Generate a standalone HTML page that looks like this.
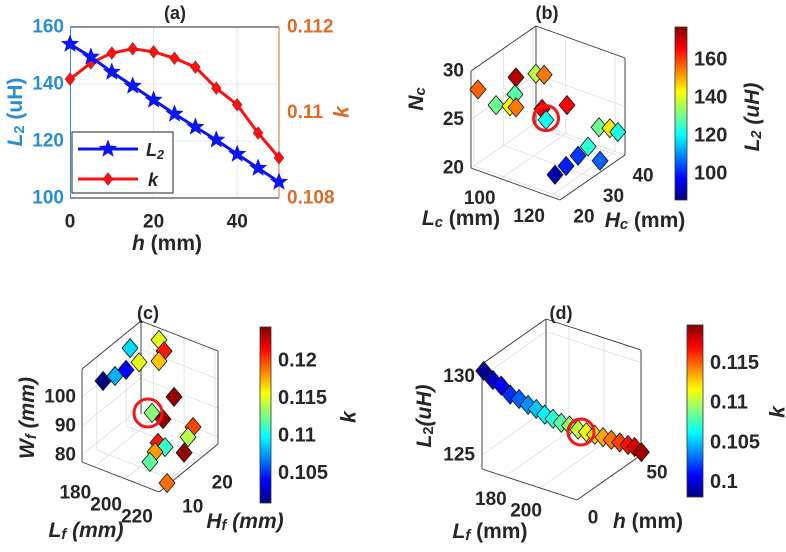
<!DOCTYPE html>
<html><head><meta charset="utf-8"><style>
html,body{margin:0;padding:0;background:#fff;}
svg{display:block;font-family:"Liberation Sans",sans-serif;}
</style></head><body>
<svg id="fig" width="786" height="552" viewBox="0 0 786 552" xmlns="http://www.w3.org/2000/svg"></svg>
<script>
// ---------- Panel (a) data ----------
const hVals = [0, 5, 10, 15, 20, 25, 30, 35, 40, 45, 50];
const L2Vals = [154, 149.5, 144.2, 139.3, 134.4, 129.5, 124.9, 120.4, 115.4, 110.5, 105.6];
const kVals = [0.11078, 0.11116, 0.11139, 0.11149, 0.11142, 0.11127, 0.11106, 0.11057, 0.11018, 0.10952, 0.10894];
const aXTicks = [0, 20, 40];
const aLTicks = [100, 120, 140, 160];
const aKTicks = [0.108, 0.11, 0.112];
const aKTickLabels = ["0.108", "0.11", "0.112"];

// ---------- Panel (b) data ----------
const bLc = [89.5, 98.3, 101.1, 101.8, 97.9, 95.5, 98.5, 98.3, 103.6, 105.8, 105.2, 113.5, 117.9, 121.1, 111.7, 112.9, 121.8, 113.3, 114.1];
const bHc = [20.1, 25.6, 30, 32.2, 25.6, 21.2, 23.4, 25.6, 30, 36.6, 30, 41, 41, 41, 38.8, 34.4, 34.4, 30, 25.6];
const bNc = [28.0, 28.9, 28.6, 28.1, 27.1, 26.7, 26.4, 25.8, 25.2, 24.4, 24.2, 21.9, 22.2, 22.1, 20.2, 20.3, 20.6, 20.2, 20.3];
const bL2 = [157, 172, 137, 155, 128, 130, 143, 155, 168, 166, 122, 130, 145, 122, 124, 102, 106, 100, 90];
const bLcTicks = [100, 120];
const bHcTicks = [20, 30, 40];
const bNcTicks = [20, 25, 30];
const bCbTicks = [100, 120, 140, 160];

// ---------- Panel (c) data ----------
const cLf = [176.4, 178.4, 177.6, 178.1, 178.0, 183.7, 187.0, 187.5, 197.3, 198.3, 201.6, 205.8, 206.4, 215.3, 206.0, 210.6, 207.9, 212.3, 221.5];
const cHf = [19, 21, 17, 13, 9, 25, 25, 23, 23, 15, 17, 25, 23, 17, 13, 13, 11, 7, 8];
const cWf = [106.2, 100.1, 100.6, 101.9, 103.5, 105.6, 102.4, 100.7, 90.4, 91.7, 88.6, 80.1, 78.4, 79.8, 84.6, 84.1, 83.5, 84.3, 78.1];
const cK = [0.109, 0.115, 0.104, 0.108, 0.100, 0.115, 0.121, 0.117, 0.124, 0.113, 0.124, 0.120, 0.114, 0.124, 0.121, 0.111, 0.118, 0.112, 0.119];
const cLfTicks = [180, 200, 220];
const cHfTicks = [10, 20];
const cWfTicks = [80, 90, 100];
const cCbTicks = [0.105, 0.11, 0.115, 0.12];
const cCbLabels = ["0.105", "0.11", "0.115", "0.12"];

// ---------- Panel (d) data ----------
const dLf = [168.0, 171.4, 174.3, 177.6, 180.8, 184.1, 186.9, 189.9, 192.8, 195.7, 198.6, 201.6, 204.5, 207.4, 210.3, 213.2, 216.2, 219.1, 221.0, 223.0];
const dH = [0, 2.5, 5, 7.5, 10, 12.5, 15, 17.5, 20, 22.5, 25, 27.5, 30, 32.5, 35, 37.5, 40, 42.5, 45, 47.5];
const dL2 = [130.4, 129.8, 129.4, 128.8, 128.5, 128.1, 127.8, 127.4, 127.1, 126.8, 126.6, 126.3, 126.1, 125.9, 125.7, 125.5, 125.3, 125.1, 124.9, 124.5];
const dK = [0.0985, 0.0996, 0.1007, 0.1018, 0.1029, 0.1039, 0.1050, 0.1061, 0.1071, 0.1082, 0.1093, 0.1104, 0.1114, 0.1125, 0.1136, 0.1146, 0.1157, 0.1168, 0.1179, 0.1190];
const dLfTicks = [180, 200];
const dHTicks = [0, 50];
const dL2Ticks = [125, 130];
const dCbTicks = [0.1, 0.105, 0.11, 0.115];
const dCbLabels = ["0.1", "0.105", "0.11", "0.115"];

const NS = "http://www.w3.org/2000/svg";
const svg = document.getElementById("fig");
const TXT = "#262626";
const TS = 19, AS = 21;
function mk(tag, attrs, parent) {
  const e = document.createElementNS(NS, tag);
  for (const k in attrs) e.setAttribute(k, attrs[k]);
  (parent || svg).appendChild(e);
  return e;
}
function jet(t) {
  t = Math.max(0, Math.min(1, t));
  const c = x => Math.round(255 * Math.max(0, Math.min(1, x)));
  return "rgb(" + c(1.5 - Math.abs(4 * t - 3)) + "," + c(1.5 - Math.abs(4 * t - 2)) + "," + c(1.5 - Math.abs(4 * t - 1)) + ")";
}
function label(x, y, str, opts, parent) {
  const t = mk("text", { x: x, y: y, "font-size": opts.size || TS, "font-weight": "bold", fill: opts.fill || TXT, "text-anchor": opts.anchor || "middle", "dominant-baseline": "central" }, parent);
  t.textContent = str;
  return t;
}
function subLabel(x, y, main, sub, rest, opts, parent) {
  const sz = opts.size || AS;
  const t = mk("text", { x: x, y: y, "font-size": sz, "font-weight": "bold", fill: opts.fill || TXT, "text-anchor": "middle", "dominant-baseline": "central" }, parent);
  if (opts.rot) t.setAttribute("transform", "rotate(-90 " + x + " " + y + ")");
  const a = mk("tspan", { "font-style": "italic" }, t); a.textContent = main;
  const b = mk("tspan", { "font-style": opts.subItalic ? "italic" : "normal", "font-size": sz * 0.7, dy: 5 }, t); b.textContent = sub;
  if (rest) { const c = mk("tspan", { dy: -5, "font-style": opts.restItalic ? "italic" : "normal" }, t); c.textContent = rest; }
  return t;
}
function diamond(cx, cy, hw, hh, fill, parent, sw) {
  return mk("polygon", { points: [cx, cy - hh, cx + hw, cy, cx, cy + hh, cx - hw, cy].join(","), fill: fill, stroke: "#111", "stroke-width": sw || 0.8 }, parent);
}
function star(cx, cy, r, fill, parent) {
  const pts = [];
  for (let i = 0; i < 10; i++) {
    const rr = i % 2 ? r * 0.42 : r;
    const a = -Math.PI / 2 + i * Math.PI / 5;
    pts.push((cx + rr * Math.cos(a)).toFixed(1) + "," + (cy + rr * Math.sin(a)).toFixed(1));
  }
  return mk("polygon", { points: pts.join(" "), fill: fill, stroke: fill, "stroke-width": 0.5 }, parent);
}

// =================== Panel (a) ===================
const gA = mk("g", {});


const xA = h => 70 + h / 50 * 209;
const yL = v => 198 - (v - 100) / 60 * 171;
const yK = k => 198 - (k - 0.108) / 0.004 * 171;
const L2C = "#2a8fcf", KC = "#dd6b2a";
aXTicks.forEach(t => { if (t > 0) { const g = mk("line", { x1: xA(t), x2: xA(t), y1: 27, y2: 198, stroke: "#e3e3e3", "stroke-width": 1 }, gA);
    } });
aLTicks.forEach(t => { if (t > 100 && t < 160) { const g = mk("line", { x1: 70, x2: 279, y1: yL(t), y2: yL(t), stroke: "#dcecf6", "stroke-width": 1 }, gA);
    } });
const boxTop = mk("line", { x1: 70, x2: 279, y1: 27, y2: 27, stroke: TXT, "stroke-width": 1 }, gA);


const boxBot = mk("line", { x1: 70, x2: 279, y1: 198, y2: 198, stroke: TXT, "stroke-width": 1 }, gA);


const axL = mk("line", { x1: 70.5, x2: 70.5, y1: 27, y2: 198, stroke: L2C, "stroke-width": 1 }, gA);


const axR = mk("line", { x1: 279, x2: 279, y1: 27, y2: 198, stroke: KC, "stroke-width": 1 }, gA);


aXTicks.forEach(t => { const l = label(xA(t), 222, String(t), {}, gA);
    });
aLTicks.forEach(t => { const l = label(64, yL(t), String(t), { anchor: "end", fill: L2C }, gA);
    });
aKTicks.forEach((t, i) => { const l = label(287, yK(t), aKTickLabels[i], { anchor: "start", fill: KC }, gA);
    });
const kLine = mk("polyline", { points: hVals.map((h, i) => xA(h) + "," + yK(kVals[i])).join(" "), fill: "none", stroke: "#ff1010", "stroke-width": 3 }, gA);


hVals.forEach((h, i) => { const d = diamond(xA(h), yK(kVals[i]), 5, 6.5, "#ff1010", gA, 0.3);
    });
const lLine = mk("polyline", { points: hVals.map((h, i) => xA(h) + "," + yL(L2Vals[i])).join(" "), fill: "none", stroke: "#0a14f0", "stroke-width": 3 }, gA);


hVals.forEach((h, i) => { const s = star(xA(h), yL(L2Vals[i]), 9, "#0a14f0", gA);
    });
const leg = mk("g", {}, gA);


const legBox = mk("rect", { x: 72, y: 132, width: 101, height: 61, fill: "#fff", stroke: TXT, "stroke-width": 1 }, leg);


const lg1 = mk("line", { x1: 78, x2: 138, y1: 149, y2: 149, stroke: "#0a14f0", "stroke-width": 3 }, leg);


const ls1 = star(108, 149, 9, "#0a14f0", leg);


const lt1 = subLabel(155, 150, "L", "2", "", { size: 18, subItalic: true }, leg);


const lg2 = mk("line", { x1: 78, x2: 138, y1: 179, y2: 179, stroke: "#ff1010", "stroke-width": 3 }, leg);


const ld2 = diamond(108, 179, 5, 6.5, "#ff1010", leg, 0.3);


const lt2 = mk("text", { x: 148, y: 180, "font-size": 18, "font-weight": "bold", "font-style": "italic", fill: TXT, "dominant-baseline": "central" }, leg);
lt2.textContent = "k";


const aTitle = label(175, 13, "(a)", { size: 18 }, gA);


const aYL = subLabel(15, 112, "L", "2", " (uH)", { rot: true, fill: L2C }, gA);


const aYR = mk("text", { x: 342, y: 112, "font-size": AS, "font-weight": "bold", "font-style": "italic", fill: KC, "text-anchor": "middle", "dominant-baseline": "central", transform: "rotate(-90 342 112)" }, gA);
aYR.textContent = "k";


const aX = mk("text", { x: 167, y: 243, "font-size": AS, "font-weight": "bold", fill: TXT, "text-anchor": "middle", "dominant-baseline": "central" }, gA);


const aXi = mk("tspan", { "font-style": "italic" }, aX); aXi.textContent = "h";
const aXr = mk("tspan", {}, aX); aXr.textContent = " (mm)";

// =================== 3D panels ===================
function make3D(cfg) {
  const P = (u, v, w) => [cfg.o[0] + u * cfg.eu[0] + v * cfg.ev[0] + w * cfg.ew[0], cfg.o[1] + u * cfg.eu[1] + v * cfg.ev[1] + w * cfg.ew[1]];
  const nu = x => (x - cfg.xr[0]) / (cfg.xr[1] - cfg.xr[0]);
  const nv = y => (y - cfg.yr[0]) / (cfg.yr[1] - cfg.yr[0]);
  const nw = z => (z - cfg.zr[0]) / (cfg.zr[1] - cfg.zr[0]);
  return { P: P, proj: (x, y, z) => P(nu(x), nv(y), nw(z)), nu: nu, nv: nv, nw: nw };
}
function seg(g, a, b, stroke, w, name) {
  const l = mk("line", { x1: a[0], y1: a[1], x2: b[0], y2: b[1], stroke: stroke, "stroke-width": w }, g);
  
  
  return l;
}
function drawBox(g, A, xt, yt, zt) {
  const P = A.P, GC = "#dddddd";
  xt.forEach(t => { const u = A.nu(t); seg(g, P(u, 0, 0), P(u, 1, 0), GC, 0.8, "grid-line"); seg(g, P(u, 1, 0), P(u, 1, 1), GC, 0.8, "grid-line"); });
  yt.forEach(t => { const v = A.nv(t); seg(g, P(0, v, 0), P(1, v, 0), GC, 0.8, "grid-line"); seg(g, P(0, v, 0), P(0, v, 1), GC, 0.8, "grid-line"); });
  zt.forEach(t => { const w = A.nw(t); seg(g, P(0, 0, w), P(0, 1, w), GC, 0.8, "grid-line"); seg(g, P(0, 1, w), P(1, 1, w), GC, 0.8, "grid-line"); });
  const BC = "#333", BW = 0.9;
  seg(g, P(0, 0, 0), P(0, 0, 1), BC, BW, "z-axis-line");
  seg(g, P(0, 0, 0), P(1, 0, 0), BC, BW, "x-axis-line");
  seg(g, P(1, 0, 0), P(1, 1, 0), BC, BW, "y-axis-line");
  seg(g, P(1, 1, 0), P(1, 1, 1), BC, BW, "box-edge");
  seg(g, P(1, 1, 1), P(0, 1, 1), BC, BW, "box-edge");
  seg(g, P(0, 1, 1), P(0, 0, 1), BC, BW, "box-edge");
  seg(g, P(0, 1, 0), P(0, 1, 1), BC, BW, "box-edge");
}
function colorbar(g, x, y0, y1, w, vmin, vmax, ticks, labels, name) {
  const id = "grad-" + name;
  const defs = mk("defs", {}, g);
  const lg = mk("linearGradient", { id: id, x1: 0, y1: 1, x2: 0, y2: 0 }, defs);
  for (let i = 0; i <= 16; i++) mk("stop", { offset: (i / 16), "stop-color": jet(i / 16) }, lg);
  const r = mk("rect", { x: x, y: y0, width: w, height: y1 - y0, fill: "url(#" + id + ")", stroke: "#333", "stroke-width": 0.8 }, g);
  
  
  const ys = v => y1 - (v - vmin) / (vmax - vmin) * (y1 - y0);
  ticks.forEach((t, i) => {
    const tl = label(x + w + 7, ys(t), labels[i], { anchor: "start", size: 20 }, g);
    
    
  });
}
function scatter3D(g, A, xs, ys, zs, cs, cmin, cmax, hw, hh) {
  xs.forEach((x, i) => {
    const p = A.proj(x, ys[i], zs[i]);
    const d = diamond(p[0], p[1], hw, hh, jet((cs[i] - cmin) / (cmax - cmin)), g);
    
    
  });
}
function ring(g, p, r) {
  const c = mk("circle", { cx: p[0], cy: p[1], r: r, fill: "none", stroke: "#f01818", "stroke-width": 3 }, g);
  
  
}

// ---- Panel (b) ----
const gB = mk("g", {});


const AB = make3D({ o: [471, 168], eu: [89, 32], ev: [65, -45], ew: [0, -97], xr: [88, 124], yr: [19, 41], zr: [20, 30] });
drawBox(gB, AB, bLcTicks, bHcTicks, bNcTicks);
bLcTicks.forEach(t => { const p = AB.proj(t, 19, 20); const l = label(p[0] - 21, p[1] + 20, String(t), {}, gB);
    });
bHcTicks.forEach(t => { const p = AB.proj(124, t, 20); const l = label(p[0] + 21, p[1] + 19, String(t), {}, gB);
    });
bNcTicks.forEach(t => { const p = AB.proj(88, 19, t); const l = label(p[0] - 7, p[1], String(t), { anchor: "end" }, gB);
    });
scatter3D(gB, AB, bLc, bHc, bNc, bL2, 86, 177, 8, 9.5);
ring(gB, AB.proj(bLc[10], bHc[10], bNc[10] + 0.2), 12.5);
colorbar(gB, 675, 27, 200, 12, 86, 177, bCbTicks, bCbTicks.map(String), "b-colorbar");
const bT = label(547, 13, "(b)", { size: 18 }, gB);


const bZ = subLabel(416, 99, "N", "c", "", { rot: true, subItalic: true }, gB);


const bXl = subLabel(461, 218, "L", "c", " (mm)", { subItalic: true }, gB);


const bYl = subLabel(645, 220, "H", "c", " (mm)", { subItalic: true }, gB);


const bCl = subLabel(752, 117, "L", "2", " (uH)", { rot: true, subItalic: true, restItalic: true }, gB);



// ---- Panel (c) ----
const gC = mk("g", {});


const AC = make3D({ o: [82, 462], eu: [77, 30], ev: [59, -48], ew: [0, -93], xr: [172, 222], yr: [5, 25], zr: [77.6, 109.7] });
drawBox(gC, AC, cLfTicks, cHfTicks, cWfTicks);
cLfTicks.forEach(t => { const p = AC.proj(t, 5, 77.6); const l = label(p[0] - 19, p[1] + 26, String(t), {}, gC);
    });
cHfTicks.forEach(t => { const p = AC.proj(222, t, 77.6); const l = label(p[0] + 19, p[1] + 27, String(t), {}, gC);
    });
cWfTicks.forEach(t => { const p = AC.proj(172, 5, t); const l = label(p[0] - 6, p[1], String(t), { anchor: "end" }, gC);
    });
scatter3D(gC, AC, cLf, cHf, cWf, cK, 0.101, 0.1245, 8, 9.5);
ring(gC, [148, 413], 14);
colorbar(gC, 260, 327, 503, 11, 0.101, 0.1245, cCbTicks, cCbLabels, "c-colorbar");
const cT = label(148, 313, "(c)", { size: 18 }, gC);


const cZ = subLabel(27, 418, "W", "f", " (mm)", { rot: true, subItalic: true, restItalic: true }, gC);


const cXl = subLabel(86, 530, "L", "f", " (mm)", { subItalic: true, restItalic: true }, gC);


const cYl = subLabel(245, 521, "H", "f", " (mm)", { subItalic: true, restItalic: true }, gC);


const cCl = mk("text", { x: 349, y: 417, "font-size": AS, "font-weight": "bold", "font-style": "italic", fill: TXT, "text-anchor": "middle", "dominant-baseline": "central", transform: "rotate(-90 349 417)" }, gC);
cCl.textContent = "k";



// ---- Panel (d) ----
const gD = mk("g", {});


const AD = make3D({ o: [482, 469], eu: [95, 31], ev: [64, -45], ew: [0, -105], xr: [167, 221], yr: [0, 50], zr: [124.1, 130.8] });
drawBox(gD, AD, dLfTicks, dHTicks, dL2Ticks);
dLfTicks.forEach(t => { const p = AD.proj(t, 0, 124.1); const l = label(p[0] - 14, p[1] + 23, String(t), {}, gD);
    });
dHTicks.forEach(t => { const p = AD.proj(221, t, 124.1); const l = label(p[0] + 16, p[1] + 18, String(t), {}, gD);
    });
dL2Ticks.forEach(t => { const p = AD.proj(167, 0, t); const l = label(p[0] - 7, p[1], String(t), { anchor: "end" }, gD);
    });
scatter3D(gD, AD, dLf, dH, dL2, dK, 0.0981, 0.1198, 8, 9.5);
ring(gD, [581, 432], 13);
colorbar(gD, 687, 325, 497, 16, 0.0981, 0.1198, dCbTicks, dCbLabels, "d-colorbar");
const dT = label(561, 313, "(d)", { size: 18 }, gD);


const dZ = subLabel(424, 416, "L", "2", "(uH)", { rot: true, restItalic: true }, gD);


const dXl = subLabel(490, 531, "L", "f", " (mm)", { subItalic: true }, gD);


const dYl = mk("text", { x: 648, y: 521, "font-size": AS, "font-weight": "bold", fill: TXT, "text-anchor": "middle", "dominant-baseline": "central" }, gD);


const dYi = mk("tspan", { "font-style": "italic" }, dYl); dYi.textContent = "h";
const dYr = mk("tspan", {}, dYl); dYr.textContent = " (mm)";
const dCl = mk("text", { x: 778, y: 412, "font-size": AS, "font-weight": "bold", "font-style": "italic", fill: TXT, "text-anchor": "middle", "dominant-baseline": "central", transform: "rotate(-90 778 412)" }, gD);
dCl.textContent = "k";


</script>
</body></html>
